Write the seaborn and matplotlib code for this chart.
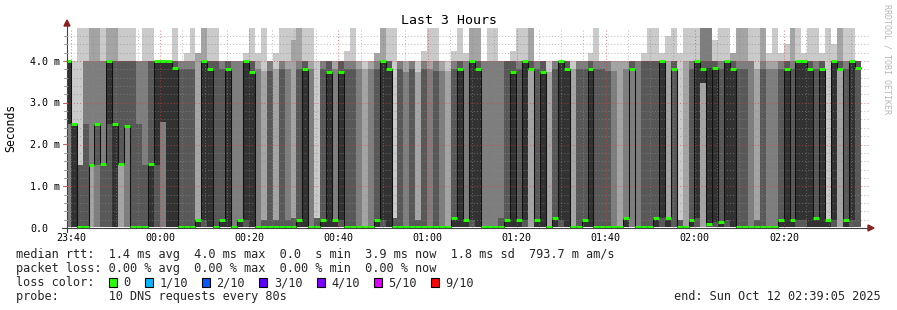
import numpy as np
import matplotlib
matplotlib.use("Agg")
import matplotlib.pyplot as plt
from matplotlib.patches import Rectangle, Polygon
from matplotlib.lines import Line2D
import seaborn as sns

# ---------------- data (ms) : 10 sorted pings per 80 s step, plus median ----------------
ping1 = [
    0.02, 0.02, 0.02, 0.02, 0.02, 0.02, 0.02, 0.02, 0.02, 0.02,
    0.02, 0.02, 0.02, 0.02, 0.02, 0.02, 0.02, 0.02, 0.02, 0.02,
    0.02, 0.02, 0.02, 0.02, 0.02, 0.02, 0.02, 0.02, 0.02, 0.02,
    0.02, 0.02, 0.02, 0.02, 0.02, 0.02, 0.02, 0.02, 0.02, 0.02,
    0.02, 0.02, 0.02, 0.02, 0.02, 0.02, 0.02, 0.02, 0.02, 0.02,
    0.02, 0.02, 0.02, 0.02, 0.02, 0.02, 0.02, 0.02, 0.02, 0.02,
    0.02, 0.02, 0.02, 0.02, 0.02, 0.02, 0.02, 0.02, 0.02, 0.02,
    0.02, 0.02, 0.02, 0.02, 0.02, 0.02, 0.02, 0.02, 0.02, 0.02,
    0.02, 0.02, 0.02, 0.02, 0.02, 0.02, 0.02, 0.02, 0.02, 0.02,
    0.02, 0.02, 0.02, 0.02, 0.02, 0.02, 0.02, 0.02, 0.02, 0.02,
    0.02, 0.02, 0.02, 0.02, 0.02, 0.02, 0.02, 0.02, 0.02, 0.02,
    0.02, 0.02, 0.02, 0.02, 0.02, 0.02, 0.02, 0.02, 0.02, 0.02,
    0.02, 0.02, 0.02, 0.02, 0.02, 0.02, 0.02, 0.02, 0.02, 0.02,
    0.02, 0.02, 0.02, 0.02]
ping2 = [
    0.02, 0.02, 0.02, 0.02, 0.02, 0.02, 0.02, 0.02, 0.02, 0.02,
    0.02, 0.02, 0.02, 0.02, 0.02, 0.02, 0.02, 0.02, 0.02, 0.02,
    0.02, 0.02, 0.02, 0.02, 0.02, 0.02, 0.02, 0.02, 0.02, 0.02,
    0.02, 0.02, 0.02, 0.02, 0.02, 0.02, 0.02, 0.02, 0.02, 0.02,
    0.02, 0.02, 0.02, 0.02, 0.02, 0.02, 0.02, 0.02, 0.02, 0.02,
    0.02, 0.02, 0.02, 0.02, 0.02, 0.02, 0.02, 0.02, 0.02, 0.02,
    0.02, 0.02, 0.02, 0.02, 0.02, 0.02, 0.02, 0.02, 0.02, 0.02,
    0.02, 0.02, 0.02, 0.02, 0.02, 0.02, 0.02, 0.02, 0.02, 0.02,
    0.02, 0.02, 0.02, 0.02, 0.02, 0.02, 0.02, 0.02, 0.02, 0.02,
    0.02, 0.02, 0.02, 0.02, 0.02, 0.02, 0.02, 0.02, 0.02, 0.02,
    0.02, 0.02, 0.02, 0.02, 0.02, 0.02, 0.02, 0.02, 0.02, 0.02,
    0.02, 0.02, 0.02, 0.02, 0.02, 0.02, 0.02, 0.02, 0.02, 0.02,
    0.02, 0.02, 0.02, 0.02, 0.02, 0.02, 0.02, 0.02, 0.02, 0.02,
    0.02, 0.02, 0.02, 0.02]
ping3 = [
    0.02, 0.02, 0.02, 0.02, 1.5, 0.02, 0.02, 0.02, 0.02, 1.5,
    0.02, 0.02, 0.02, 0.02, 0.02, 0.02, 0.02, 0.02, 0.02, 0.02,
    0.02, 0.02, 0.02, 0.02, 0.02, 0.02, 0.02, 0.02, 0.02, 0.02,
    0.02, 0.02, 0.02, 0.02, 0.02, 0.02, 0.02, 0.02, 0.02, 0.02,
    0.02, 0.02, 0.02, 0.02, 0.02, 0.02, 0.02, 0.02, 0.02, 0.02,
    0.02, 0.02, 0.02, 0.02, 0.02, 0.02, 0.02, 0.02, 0.02, 0.02,
    0.02, 0.02, 0.02, 0.02, 0.02, 0.02, 0.02, 0.02, 0.02, 0.02,
    0.02, 0.02, 0.02, 0.02, 0.02, 0.02, 0.02, 0.02, 3.8, 0.02,
    0.02, 0.02, 0.02, 0.02, 0.02, 0.02, 0.02, 0.02, 0.02, 0.02,
    0.02, 0.02, 0.02, 0.02, 0.02, 0.02, 0.02, 0.02, 0.02, 0.02,
    0.02, 0.02, 0.02, 0.02, 0.02, 0.02, 0.02, 3.48, 0.02, 0.02,
    0.02, 0.02, 0.02, 0.02, 0.02, 0.02, 0.02, 0.02, 0.02, 0.02,
    0.02, 0.02, 0.02, 0.02, 0.02, 0.02, 0.02, 0.02, 0.02, 0.02,
    3.8, 0.02, 0.02, 0.02]
ping4 = [
    2.5, 0.02, 0.02, 0.02, 1.5, 1.5, 0.02, 0.02, 0.02, 1.5,
    2.45, 0.02, 0.02, 0.02, 0.02, 0.02, 2.55, 0.02, 0.02, 0.02,
    0.02, 0.02, 0.02, 0.02, 0.02, 0.02, 0.02, 0.02, 0.02, 0.02,
    0.02, 0.02, 0.02, 0.02, 0.02, 0.02, 0.02, 0.02, 0.02, 0.02,
    0.02, 0.02, 0.02, 0.02, 0.02, 0.02, 0.02, 0.02, 0.02, 0.02,
    0.02, 0.02, 0.02, 0.02, 0.02, 0.02, 0.02, 0.02, 0.02, 0.02,
    0.02, 0.02, 0.02, 0.02, 0.02, 0.02, 0.02, 0.02, 0.02, 0.02,
    0.02, 0.02, 0.02, 0.02, 0.02, 0.02, 0.02, 0.02, 3.8, 0.02,
    0.02, 0.02, 0.02, 0.02, 0.02, 0.02, 0.02, 0.02, 0.02, 0.02,
    0.02, 0.02, 0.02, 0.02, 0.02, 3.8, 0.02, 0.02, 0.02, 0.02,
    0.02, 0.02, 0.02, 0.02, 0.02, 0.02, 0.02, 3.48, 0.02, 0.02,
    0.02, 0.02, 0.02, 0.02, 0.02, 0.02, 0.02, 0.02, 0.02, 0.02,
    0.02, 0.02, 0.02, 0.02, 0.02, 0.02, 0.02, 0.02, 0.02, 0.02,
    3.8, 0.02, 0.02, 0.02]
ping5 = [
    2.5, 0.02, 0.02, 0.02, 1.5, 2.5, 1.5, 2.5, 0.02, 1.5,
    2.45, 0.02, 0.02, 0.02, 0.02, 1.5, 2.55, 0.02, 0.02, 0.02,
    0.02, 0.02, 0.02, 0.19, 0.02, 0.02, 0.02, 0.02, 0.02, 0.02,
    0.19, 0.02, 0.02, 0.02, 0.02, 0.02, 0.02, 0.02, 0.02, 0.02,
    0.02, 0.02, 0.02, 0.02, 0.02, 0.02, 0.19, 0.02, 0.02, 0.02,
    0.02, 0.02, 0.02, 0.19, 0.02, 0.02, 0.02, 0.02, 0.02, 0.02,
    0.02, 0.02, 0.02, 0.02, 0.02, 0.02, 0.02, 0.02, 0.19, 0.02,
    0.02, 0.02, 0.02, 0.02, 0.02, 0.02, 0.02, 0.19, 3.8, 0.02,
    0.02, 0.02, 0.02, 0.19, 0.02, 0.02, 0.02, 0.02, 0.02, 0.02,
    0.02, 0.02, 0.02, 0.02, 0.02, 3.8, 0.02, 0.02, 0.02, 0.02,
    0.24, 0.02, 3.8, 0.02, 0.02, 0.02, 0.24, 3.48, 0.09, 0.14,
    0.02, 0.19, 0.02, 0.02, 0.02, 0.02, 0.02, 0.02, 0.02, 0.02,
    0.02, 0.02, 0.02, 0.19, 0.19, 0.02, 0.02, 0.02, 0.02, 0.19,
    3.8, 0.02, 0.19, 3.84]
ping6 = [
    4.0, 2.5, 0.02, 0.02, 1.5, 2.5, 1.5, 4.0, 2.5, 1.5,
    2.45, 0.02, 0.02, 0.02, 1.5, 4.0, 4.0, 4.0, 3.84, 0.02,
    0.02, 0.02, 0.19, 4.0, 3.8, 0.02, 0.19, 3.8, 0.02, 0.19,
    4.0, 3.74, 0.02, 0.02, 0.02, 0.02, 0.02, 0.02, 0.02, 0.19,
    3.8, 0.02, 0.02, 0.19, 3.74, 0.19, 3.74, 0.02, 0.02, 0.02,
    0.02, 0.02, 0.19, 4.0, 3.8, 0.02, 0.02, 0.02, 0.02, 0.02,
    0.02, 0.02, 0.02, 0.02, 0.02, 0.24, 3.8, 0.19, 4.0, 3.8,
    0.02, 0.02, 0.02, 0.02, 0.19, 3.74, 0.19, 4.0, 3.8, 0.19,
    3.74, 0.02, 0.24, 4.0, 3.8, 0.02, 0.02, 0.19, 3.8, 0.02,
    0.02, 0.02, 0.02, 0.02, 0.24, 3.8, 0.02, 0.02, 0.02, 0.24,
    4.0, 0.24, 3.8, 0.02, 0.02, 0.19, 4.0, 3.8, 3.84, 3.84,
    0.14, 4.0, 3.8, 0.02, 0.02, 0.02, 0.02, 0.02, 0.02, 0.02,
    0.19, 3.8, 0.19, 4.0, 4.0, 3.8, 0.24, 3.8, 0.19, 4.0,
    3.8, 0.19, 4.0, 3.84]
ping7 = [
    4.0, 2.5, 1.5, 2.5, 1.5, 2.5, 1.5, 4.0, 4.0, 4.0,
    4.0, 4.0, 2.5, 1.5, 4.0, 4.0, 4.0, 4.0, 4.0, 3.8,
    3.8, 3.8, 0.19, 4.0, 4.0, 4.0, 3.8, 4.0, 0.02, 0.19,
    4.0, 4.0, 0.02, 0.19, 3.75, 0.19, 3.8, 0.19, 0.24, 3.8,
    4.0, 0.02, 0.24, 3.8, 4.0, 0.19, 4.0, 3.8, 3.8, 0.02,
    0.02, 0.02, 3.8, 4.0, 4.0, 0.24, 3.8, 0.02, 3.8, 0.19,
    3.8, 0.02, 3.75, 0.02, 0.02, 3.8, 4.0, 0.19, 4.0, 4.0,
    0.02, 0.02, 0.02, 0.24, 4.0, 4.0, 3.8, 4.0, 4.0, 3.8,
    4.0, 0.02, 3.8, 4.0, 4.0, 0.02, 3.8, 3.8, 4.0, 3.8,
    3.8, 3.75, 0.02, 0.02, 0.24, 4.0, 0.02, 4.0, 4.0, 4.0,
    4.0, 0.24, 4.0, 0.19, 0.02, 3.8, 4.0, 4.0, 4.0, 4.0,
    3.8, 4.0, 4.0, 3.8, 3.8, 0.02, 0.19, 3.8, 0.02, 0.02,
    3.8, 4.0, 3.8, 4.0, 4.0, 4.0, 3.8, 4.0, 0.19, 4.0,
    4.0, 3.8, 4.0, 4.0]
ping8 = [
    4.0, 2.5, 1.5, 4.0, 4.0, 4.0, 4.0, 4.0, 4.0, 4.0,
    4.0, 4.0, 4.0, 4.0, 4.0, 4.0, 4.0, 4.0, 4.0, 4.0,
    4.0, 4.0, 0.19, 4.0, 4.0, 4.0, 4.0, 4.0, 4.0, 4.0,
    4.0, 4.0, 3.8, 0.19, 4.0, 0.19, 4.0, 3.8, 0.24, 4.0,
    4.0, 3.8, 0.24, 4.0, 4.0, 3.8, 4.0, 4.0, 4.0, 3.8,
    0.02, 3.8, 4.0, 4.0, 4.0, 0.24, 4.0, 3.74, 4.0, 0.19,
    4.0, 3.8, 4.0, 3.75, 0.02, 4.0, 4.0, 4.0, 4.0, 4.0,
    4.0, 4.0, 4.0, 4.0, 4.0, 4.0, 4.0, 4.0, 4.0, 4.0,
    4.0, 0.02, 4.0, 4.0, 4.0, 0.02, 4.0, 4.0, 4.0, 4.0,
    4.0, 4.0, 3.75, 0.02, 3.8, 4.0, 4.0, 4.0, 4.0, 4.0,
    4.0, 0.24, 4.0, 0.19, 0.02, 4.0, 4.0, 5.0, 5.0, 4.0,
    4.0, 4.0, 4.0, 4.0, 4.0, 4.0, 0.19, 4.0, 3.8, 3.8,
    4.0, 4.0, 4.0, 4.0, 4.0, 4.0, 4.0, 4.0, 0.19, 4.0,
    4.0, 4.0, 4.0, 4.0]
ping9 = [
    4.0, 2.5, 1.5, 4.0, 5.0, 5.0, 4.0, 5.0, 5.0, 4.0,
    4.0, 4.0, 4.0, 4.0, 4.0, 4.0, 4.0, 4.0, 4.0, 4.0,
    4.0, 4.0, 4.2, 5.0, 4.0, 4.0, 4.0, 4.0, 4.0, 4.0,
    4.0, 4.0, 4.0, 3.75, 4.0, 3.8, 4.0, 4.0, 4.5, 5.0,
    4.0, 4.0, 0.24, 4.0, 4.0, 4.0, 4.0, 4.0, 4.0, 4.0,
    3.8, 4.0, 4.2, 5.0, 4.0, 0.24, 4.0, 4.0, 4.0, 3.74,
    4.0, 4.0, 4.0, 4.0, 3.75, 4.0, 4.0, 4.0, 5.0, 5.0,
    4.0, 4.0, 4.0, 4.0, 4.0, 4.0, 4.0, 4.0, 5.0, 4.0,
    4.0, 3.74, 4.0, 4.0, 4.0, 3.8, 4.0, 4.0, 4.0, 4.0,
    4.0, 4.0, 4.0, 4.0, 4.0, 4.0, 4.0, 4.0, 4.0, 4.0,
    4.0, 4.0, 4.0, 0.19, 4.0, 4.0, 4.0, 5.0, 5.0, 4.0,
    4.0, 4.0, 4.2, 5.0, 5.0, 4.0, 3.8, 5.0, 4.0, 4.0,
    4.0, 4.0, 5.0, 4.0, 4.0, 4.0, 4.0, 4.0, 0.19, 4.0,
    5.0, 4.0, 4.0, 4.0]
ping10 = [
    4.0, 4.0, 5.0, 5.0, 5.0, 5.0, 5.0, 5.0, 5.0, 5.0,
    5.0, 5.0, 4.0, 5.0, 5.0, 4.0, 4.0, 4.0, 5.0, 4.0,
    4.2, 5.0, 4.2, 5.0, 5.0, 5.0, 4.0, 4.0, 4.0, 4.0,
    4.2, 5.0, 4.2, 5.0, 4.0, 4.2, 5.0, 5.0, 5.0, 5.0,
    5.0, 5.0, 4.0, 4.0, 4.0, 4.0, 4.0, 4.25, 5.0, 4.0,
    4.0, 4.0, 4.2, 5.0, 5.0, 5.0, 4.0, 4.0, 4.0, 4.0,
    4.25, 5.0, 5.0, 4.0, 4.0, 4.25, 5.0, 4.2, 5.0, 5.0,
    4.0, 5.0, 5.0, 4.0, 4.0, 4.25, 5.0, 5.0, 5.0, 4.0,
    4.0, 4.0, 4.0, 4.0, 4.0, 4.0, 4.0, 4.0, 4.2, 5.0,
    4.0, 4.0, 4.0, 4.0, 4.0, 4.0, 4.0, 4.2, 5.0, 5.0,
    4.2, 4.6, 5.0, 4.2, 5.0, 5.0, 5.0, 5.0, 5.0, 4.5,
    5.0, 5.0, 4.2, 5.0, 5.0, 5.0, 5.0, 5.0, 4.2, 5.0,
    4.2, 4.4, 5.0, 5.0, 4.2, 5.0, 5.0, 4.2, 5.0, 4.4,
    5.0, 5.0, 5.0, 4.0]
median = [
    4.0, 2.5, 0.02, 0.02, 1.5, 2.5, 1.53, 4.0, 2.5, 1.53,
    2.45, 0.02, 0.02, 0.02, 1.53, 4.0, 4.0, 4.0, 3.84, 0.02,
    0.02, 0.02, 0.19, 4.0, 3.8, 0.02, 0.19, 3.8, 0.02, 0.19,
    4.0, 3.74, 0.02, 0.02, 0.02, 0.02, 0.02, 0.02, 0.02, 0.19,
    3.8, 0.02, 0.02, 0.19, 3.74, 0.19, 3.74, 0.02, 0.02, 0.02,
    0.02, 0.02, 0.19, 4.0, 3.8, 0.02, 0.02, 0.02, 0.02, 0.02,
    0.02, 0.02, 0.02, 0.02, 0.02, 0.24, 3.8, 0.19, 4.0, 3.8,
    0.02, 0.02, 0.02, 0.02, 0.19, 3.74, 0.19, 4.0, 3.8, 0.19,
    3.74, 0.02, 0.24, 4.0, 3.8, 0.02, 0.02, 0.19, 3.8, 0.02,
    0.02, 0.02, 0.02, 0.02, 0.24, 3.8, 0.02, 0.02, 0.02, 0.24,
    4.0, 0.24, 3.8, 0.02, 0.02, 0.19, 4.0, 3.8, 0.09, 3.84,
    0.14, 4.0, 3.8, 0.02, 0.02, 0.02, 0.02, 0.02, 0.02, 0.02,
    0.19, 3.8, 0.19, 4.0, 4.0, 3.8, 0.24, 3.8, 0.19, 4.0,
    3.8, 0.19, 4.0, 3.84]

tick_labels = ["23:40", "00:00", "00:20", "00:40", "01:00", "01:20", "01:40", "02:00", "02:20"]
ytick_labels = ["0.0", "1.0 m", "2.0 m", "3.0 m", "4.0 m"]
ytick_values = [0, 1, 2, 3, 4]
loss_labels = ["0", "1/10", "2/10", "3/10", "4/10", "5/10", "9/10"]
loss_colors = ["#26ff00", "#00b8ff", "#0059ff", "#5e00ff", "#7e00ff", "#dd00ff", "#ff0000"]
smoke_colors = ["#cacaca", "#a4a4a4", "#7e7e7e", "#585858", "#323232"]

legend_line1 = "median rtt:  1.4 ms avg  4.0 ms max  0.0  s min  3.9 ms now  1.8 ms sd  793.7 m am/s"
legend_line2 = "packet loss: 0.00 % avg  0.00 % max  0.00 % min  0.00 % now"
legend_line3 = "loss color:"
legend_line4 = "probe:       10 DNS requests every 80s"
end_text = "end: Sun Oct 12 02:39:05 2025"
title_text = "Last 3 Hours"

# ---------------- figure ----------------
sns.set_style("white")
plt.rcParams['font.family'] = ['DejaVu Sans Mono', 'DejaVu Sans']

W, H = 897, 310
fig = plt.figure(figsize=(W / 100, H / 100), dpi=100)
fig.patch.set_facecolor("white")

PL, PR, PT, PB = 67, 869, 28, 228
ax = fig.add_axes([PL / W, 1 - PB / H, (PR - PL) / W, (PB - PT) / H])


def fx(x):
    return x / W


def fy(y):
    return 1 - y / H


pings = [ping1, ping2, ping3, ping4, ping5, ping6, ping7, ping8, ping9, ping10]
n = len(median)
for p in pings:
    assert len(p) == n, len(p)

# time of column edges in minutes from graph start (23:39:05); rrd steps of 80 s
step_s, first_end_s = 80, 50
starts = np.array([0.0] + [first_end_s + step_s * k for k in range(n - 1)]) / 60.0
ends = np.array([first_end_s + step_s * k for k in range(n)]) / 60.0
edges = np.append(starts, ends[-1])


def ext(a):
    a = list(a)
    return np.array(a + [a[-1]])


# smoke layers
for i, col in enumerate(smoke_colors):
    lo = ext(pings[i])
    hi = ext(pings[9 - i])
    ax.fill_between(edges, lo, hi, step="post", color=col, linewidth=0, zorder=1 + i * 0.01)

# grid
major_x = [55 / 60 + 20 * j for j in range(len(tick_labels))]
minor_x = [55 / 60 + 5 * j for j in range(36)]
grid_kw = dict(lw=0.75, linestyle=(0, (1, 2)), zorder=3)
for x in minor_x:
    if all(abs(x - m) > 1e-6 for m in major_x):
        ax.axvline(x, color="#8c8c8c", alpha=0.55, **grid_kw)
for yv in np.arange(0.2, 4.75, 0.2):
    if abs(yv - round(yv)) > 1e-6:
        ax.axhline(yv, color="#8c8c8c", alpha=0.55, **grid_kw)
for x in major_x:
    ax.axvline(x, color="#e03c3c", alpha=0.6, **grid_kw)
for yv in [1, 2, 3, 4]:
    ax.axhline(yv, color="#e03c3c", alpha=0.6, **grid_kw)

# median: thin dark connector line + loss-coloured segments
sns.lineplot(x=edges, y=ext(median), drawstyle="steps-post", color="#101010",
             lw=0.75, ax=ax, zorder=5, legend=False, sort=False)
ax.hlines(median, starts, ends, colors=loss_colors[0], lw=2.1, zorder=6)
ax.set_xlim(0, 180)
ax.set_ylim(0, 200 / 41.75)
ax.set_axis_off()

# axes lines and arrows
axis_col = "#404040"
arrow_col = "#8e2020"
fig.add_artist(Line2D([fx(62), fx(868)], [fy(228), fy(228)], color=axis_col, lw=0.8))
fig.add_artist(Line2D([fx(67), fx(67)], [fy(232), fy(26)], color=axis_col, lw=0.8))
fig.add_artist(Polygon([[fx(868), fy(225)], [fx(868), fy(231)], [fx(874), fy(228)]],
                       closed=True, color=arrow_col, transform=fig.transFigure))
fig.add_artist(Polygon([[fx(64), fy(26)], [fx(70), fy(26)], [fx(67), fy(20)]],
                       closed=True, color=arrow_col, transform=fig.transFigure))

# y tick marks
for yv in np.arange(0.2, 4.75, 0.2):
    ypx = 228 - yv * 41.75
    major = abs(yv - round(yv)) < 1e-6
    fig.add_artist(Line2D([fx(64 if not major else 63), fx(67)], [fy(ypx), fy(ypx)],
                          color="#a0a0a0" if not major else "#c06060", lw=0.8))

# x tick labels
for x, lab in zip(major_x, tick_labels):
    xp = PL + x / 180 * (PR - PL)
    fig.text(fx(xp), fy(241), lab, ha="center", va="baseline", fontsize=7.2, color="#000000")

# y tick labels
for yv, lab in zip(ytick_values, ytick_labels):
    ypx = 228 - yv * 41.75
    fig.text(fx(30), fy(ypx + 3.6), lab, ha="left", va="baseline", fontsize=7.2, color="#000000")

# title, y label, watermark
fig.text(fx(448.5), fy(24), title_text, ha="center", va="baseline", fontsize=9.5, color="#000000")
fig.text(fx(11), fy(128), "Seconds", ha="center", va="center", rotation=90, fontsize=8.3, color="#000000")
fig.text(fx(887), fy(4), "RRDTOOL / TOBI OETIKER", ha="center", va="top", rotation=270,
         fontsize=6.0, color="#b8b8b8")

# legend block
LFS = 8.56
CW = 7.16
X0 = 16
fig.text(fx(X0), fy(258.3), legend_line1, ha="left", va="baseline", fontsize=LFS)
fig.text(fx(X0), fy(272), legend_line2, ha="left", va="baseline", fontsize=LFS)
fig.text(fx(X0), fy(286), legend_line3, ha="left", va="baseline", fontsize=LFS)
fig.text(fx(X0), fy(300), legend_line4, ha="left", va="baseline", fontsize=LFS)
fig.text(fx(881), fy(300), end_text, ha="right", va="baseline", fontsize=LFS)

col_pos = [13, 18, 26, 34, 42, 50, 58]
for c, lab, colr in zip(col_pos, loss_labels, loss_colors):
    bx = X0 + c * CW
    fig.add_artist(Rectangle((fx(bx), fy(286.5)), 8 / W, 9 / H, facecolor=colr,
                             edgecolor="#000000", lw=0.8, transform=fig.transFigure))
    fig.text(fx(X0 + (c + 2) * CW), fy(286), lab, ha="left", va="baseline", fontsize=LFS)

fig.savefig("out.png", dpi=100, facecolor="white")
